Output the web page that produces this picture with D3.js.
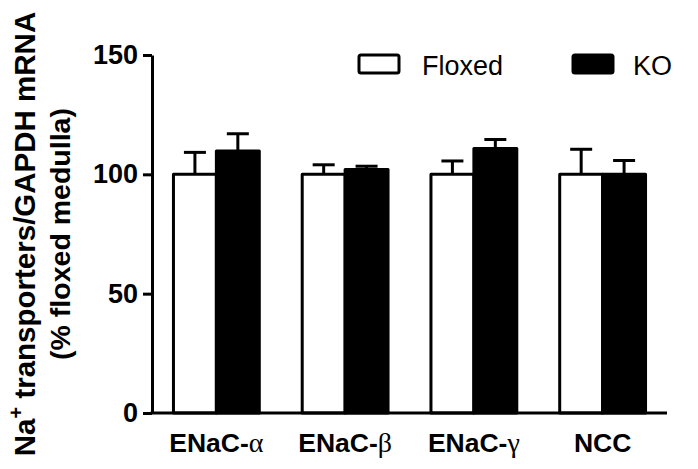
<!DOCTYPE html>
<html>
<head>
<meta charset="utf-8">
<script src="https://cdn.jsdelivr.net/npm/d3@7"></script>
<style>
  body { margin: 0; background: #fff; }
  svg { display: block; }
</style>
</head>
<body>
<div id="chart"></div>
<script>
const categories = ["ENaC-", "ENaC-", "ENaC-", "NCC"];
const greek = ["\u03b1", "\u03b2", "\u03b3", ""];
const seriesNames = ["Floxed", "KO"];
const floxedMean = [100, 100, 100, 100];
const floxedSem = [9.2, 4, 5.6, 10.5];
const koMean = [109.8, 102, 110.8, 100];
const koSem = [7.2, 1.4, 3.8, 5.8];
const yTicks = [0, 50, 100, 150];

const width = 698, height = 469;
const plotLeft = 152, plotRight = 667, plotTop = 55, plotBottom = 413;
const fillColors = {Floxed: "#fff", KO: "#000"};

const svg = d3.select("#chart").append("svg")
    .attr("width", width)
    .attr("height", height);

const y = d3.scaleLinear().domain([0, 150]).range([plotBottom, plotTop]);

const x = d3.scaleBand()
    .domain(d3.range(categories.length))
    .range([plotLeft, plotRight])
    .paddingInner(1 / 3)
    .paddingOuter(1 / 6);

const xs = d3.scaleBand()
    .domain(seriesNames)
    .range([0, x.bandwidth()]);

// rows for bars
const rows = [];
categories.forEach((c, i) => {
    rows.push({i, s: "Floxed", v: floxedMean[i], e: floxedSem[i]});
    rows.push({i, s: "KO", v: koMean[i], e: koSem[i]});
});

// error bars (behind the bars, only upward part shows)
const eb = svg.append("g").attr("stroke", "#000").attr("stroke-width", 3);
eb.selectAll("line.v").data(rows).enter().append("line")
    .attr("x1", d => x(d.i) + xs(d.s) + xs.bandwidth() / 2)
    .attr("x2", d => x(d.i) + xs(d.s) + xs.bandwidth() / 2)
    .attr("y1", d => y(d.v))
    .attr("y2", d => y(d.v + d.e));
eb.selectAll("line.c").data(rows).enter().append("line")
    .attr("x1", d => x(d.i) + xs(d.s) + xs.bandwidth() / 2 - 11)
    .attr("x2", d => x(d.i) + xs(d.s) + xs.bandwidth() / 2 + 11)
    .attr("y1", d => y(d.v + d.e))
    .attr("y2", d => y(d.v + d.e));

svg.append("g").selectAll("rect").data(rows).enter().append("rect")
    .attr("x", d => x(d.i) + xs(d.s))
    .attr("y", d => y(d.v))
    .attr("width", xs.bandwidth())
    .attr("height", d => y(0) - y(d.v))
    .attr("fill", d => fillColors[d.s])
    .attr("stroke", "#000")
    .attr("stroke-width", 3)
    .attr("stroke-linejoin", "round");

// y axis
const yAxis = svg.append("g")
    .attr("transform", "translate(" + plotLeft + ",0)")
    .call(d3.axisLeft(y).tickValues(yTicks).tickSize(9).tickPadding(5).tickSizeOuter(0));
yAxis.select(".domain").attr("stroke-width", 3);
yAxis.selectAll(".tick line").attr("stroke-width", 3);
yAxis.selectAll("text")
    .attr("font-family", "Liberation Sans, Arial, sans-serif")
    .attr("font-weight", "bold")
    .attr("font-size", 27)
    .attr("fill", "#000");

// x axis line
svg.append("line")
    .attr("x1", plotLeft - 1.5).attr("x2", plotRight)
    .attr("y1", plotBottom).attr("y2", plotBottom)
    .attr("stroke", "#000").attr("stroke-width", 3);

// x labels
const xl = svg.append("g").selectAll("text").data(categories).enter().append("text")
    .attr("x", (d, i) => x(i) + x.bandwidth() / 2)
    .attr("y", 452)
    .attr("text-anchor", "middle")
    .attr("font-family", "Liberation Sans, Arial, sans-serif")
    .attr("font-weight", "bold")
    .attr("font-size", 26.5);
xl.append("tspan").text(d => d);
xl.append("tspan")
    .attr("font-family", "Liberation Serif, serif")
    .attr("font-weight", "normal")
    .attr("font-size", 28)
    .text((d, i) => greek[i]);

// y label
const midY = (plotTop + plotBottom) / 2;
const yl = svg.append("text")
    .attr("transform", "translate(35," + midY + ") rotate(-90)")
    .attr("text-anchor", "middle")
    .attr("font-family", "Liberation Sans, Arial, sans-serif")
    .attr("font-weight", "bold")
    .attr("font-size", 29.5);
yl.append("tspan").text("Na");
yl.append("tspan").attr("dy", -12).attr("font-size", 20).text("+");
yl.append("tspan").attr("dy", 12).text(" transporters/GAPDH mRNA");
svg.append("text")
    .attr("transform", "translate(70," + midY + ") rotate(-90)")
    .attr("text-anchor", "middle")
    .attr("font-family", "Liberation Sans, Arial, sans-serif")
    .attr("font-weight", "bold")
    .attr("font-size", 28.5)
    .text("(% floxed medulla)");

// legend
const legendX = [359, 573];
const leg = svg.append("g").selectAll("g").data(seriesNames).enter().append("g")
    .attr("transform", (d, i) => "translate(" + legendX[i] + ",55)");
leg.append("rect")
    .attr("width", 40).attr("height", 18)
    .attr("rx", 2)
    .attr("fill", d => fillColors[d])
    .attr("stroke", "#000").attr("stroke-width", 3);
leg.append("text")
    .attr("x", (d, i) => i === 0 ? 63 : 60)
    .attr("y", 20)
    .attr("font-family", "Liberation Sans, Arial, sans-serif")
    .attr("font-size", 27)
    .text(d => d);
</script>
</body>
</html>
